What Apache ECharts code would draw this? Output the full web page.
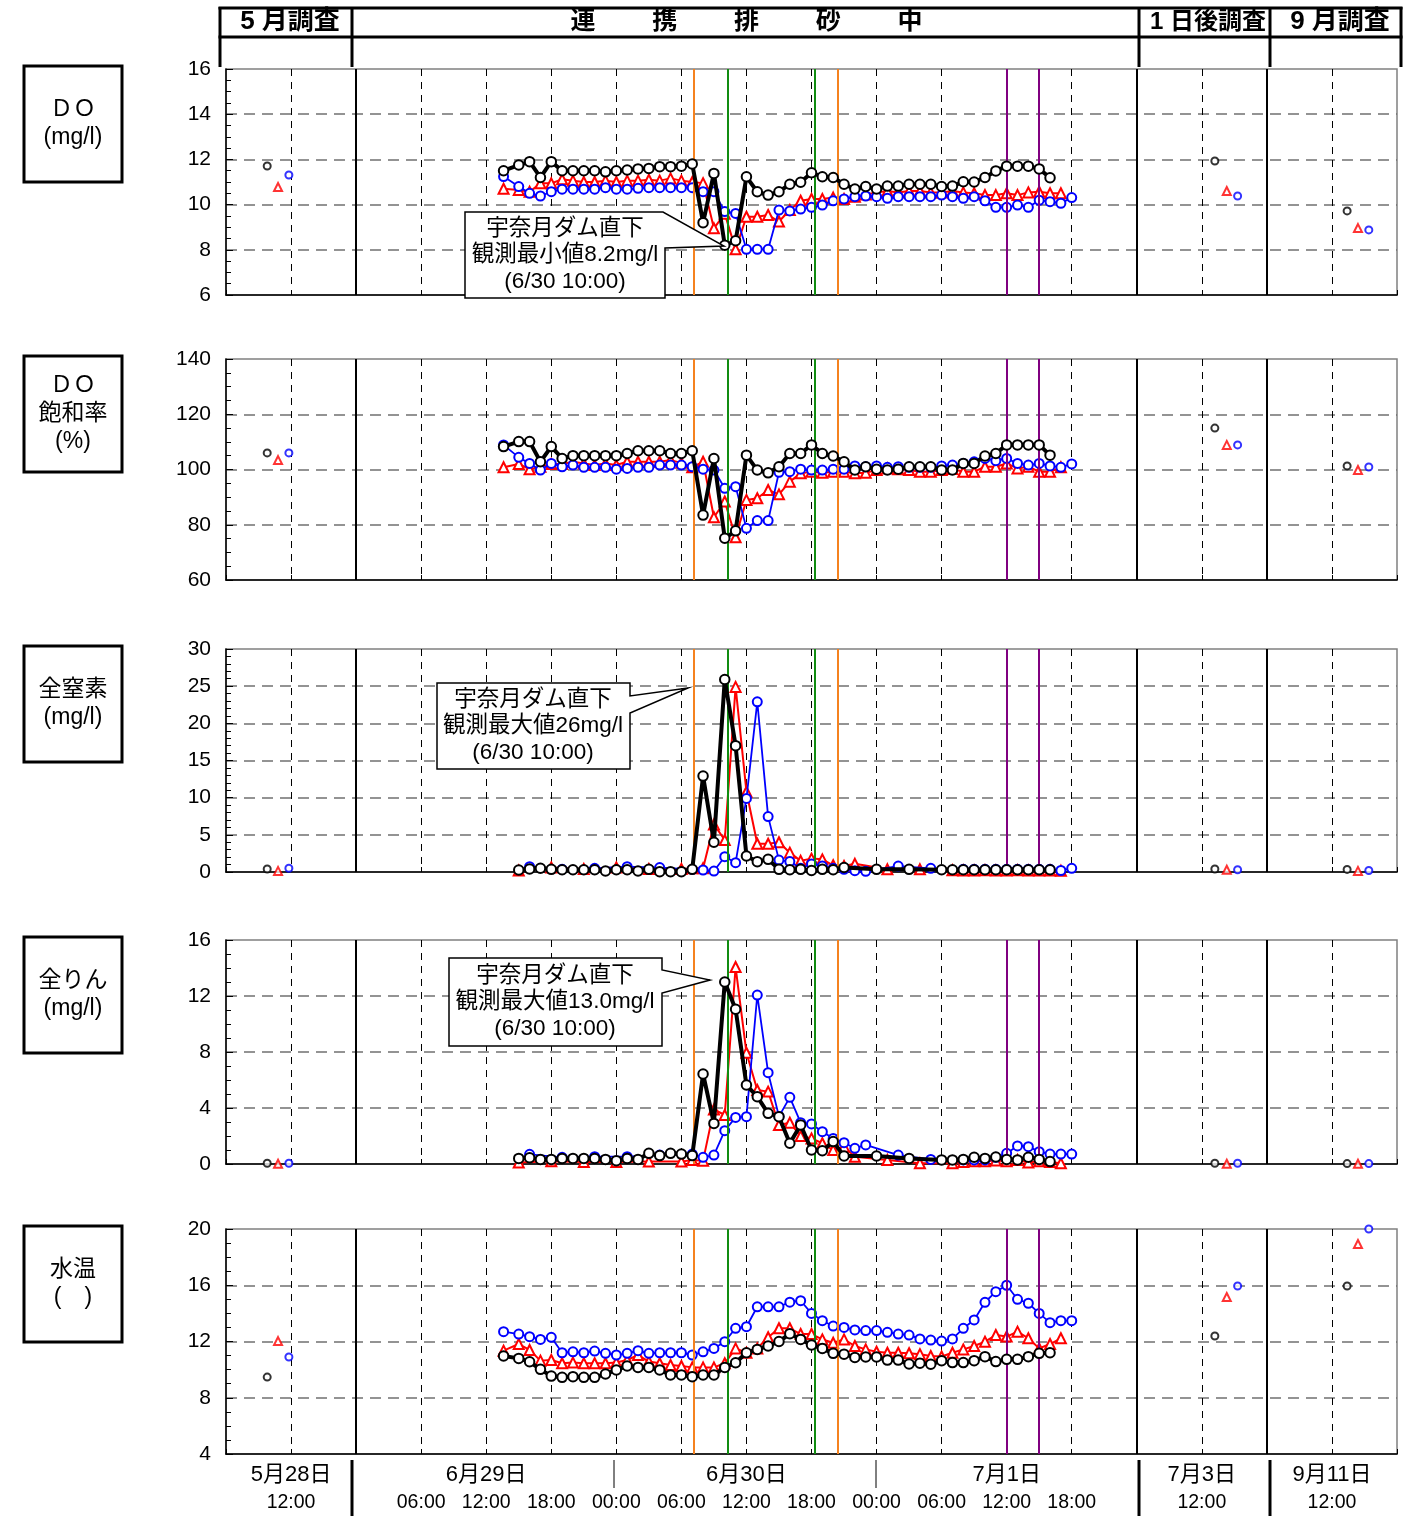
<!DOCTYPE html>
<html><head><meta charset="utf-8">
<script src="https://cdn.jsdelivr.net/npm/echarts@6/dist/echarts.min.js"></script>
<style>html,body{margin:0;padding:0;background:#fff}#c{width:1414px;height:1516px}</style>
</head><body><div id="c"></div><script>
// ---- time grid (hours from 6/29 00:00) ----
const HOURS = [13.6,
 15,16,17,
 18,19,20,21,22,23,
 24,25,26,27,28,29,
 30,31,32,33,34,35,
 36,37,38,39,40,41,
 42,43,44,45,46,47,
 48,49,50,51,52,53,
 54,55,56,57,58,59,
 60,61,62,63,64,65,
 66];

// ---- DO (mg/l) ----
const DO_BLACK = [11.5, 11.75,11.9,11.2, 11.9,11.5,11.5,11.5,11.5,11.45, 11.5,11.53,11.58,11.6,11.68,11.68, 11.7,11.8,9.2,11.38,8.2,8.4, 11.23,10.57,10.42,10.57,10.9,10.99, 11.41,11.23,11.2,10.9,10.69,10.8, 10.69,10.82,10.82,10.9,10.9,10.9, 10.8,10.82,11.01,11.0,11.2,11.49, 11.7,11.7,11.7,11.58,11.19,null, null];
const DO_RED = [10.7, 10.65,10.57,10.94, 10.94,11.12,11.06,11.0,11.0,11.06, 11.0,11.06,11.06,11.1,11.06,11.16, 11.06,11.0,10.95,8.95,9.6,8.02, 9.46,9.46,9.54,9.25,9.76,10.17, 10.25,10.25,10.31,10.25,10.35,10.45, 10.54,10.6,10.54,10.6,10.6,10.54, 10.54,10.6,10.54,10.5,10.42,10.42, 10.5,10.42,10.54,10.57,10.5,10.5, null];
const DO_BLUE = [11.24, 10.8,10.5,10.38, 10.57,10.68,10.68,10.68,10.68,10.75, 10.68,10.68,10.72,10.75,10.75,10.75, 10.75,10.75,10.57,10.57,9.69,9.61, 8.02,8.02,8.02,9.76,9.72,9.8, 9.88,9.98,10.17,10.25,10.35,10.38, 10.35,10.28,10.35,10.35,10.35,10.35, 10.42,10.35,10.28,10.35,10.17,9.88, 9.88,9.98,9.88,10.19,10.13,10.06, 10.31];

// ---- DO saturation (%) ----
const DOP_BLACK = [108.3, 110.1,110.1,102.8, 108.3,104.0,105.0,105.0,105.0,105.0, 105.0,105.8,106.8,106.8,106.8,105.8, 105.8,106.8,83.5,104.0,75.1,77.8, 105.2,99.8,98.8,101.0,105.8,105.8, 108.9,105.8,104.9,102.8,99.8,101.0, 100.1,99.8,100.1,101.0,101.0,101.0, 99.8,99.8,102.2,102.2,104.9,105.8, 108.9,108.9,108.9,108.9,105.2,null, null];
const DOP_RED = [100.8, 102.0,100.1,101.0, 102.0,102.0,102.8,102.2,101.6,102.2, 101.6,102.8,102.8,102.8,102.8,103.4, 102.4,100.8,102.8,82.7,88.4,75.5, 89.0,89.6,92.6,91.0,95.6,98.6, 99.2,98.8,99.2,99.2,98.6,98.8, 99.8,100.4,100.1,99.8,99.2,99.2, 99.8,100.2,99.2,99.2,101.0,101.0, 102.2,100.4,101.0,99.2,99.2,100.8, null];
const DOP_BLUE = [108.9, 104.4,102.2,99.8, 102.2,101.0,101.6,100.8,100.8,100.8, 100.1,100.4,100.8,100.8,101.6,101.6, 101.6,101.0,100.1,99.8,93.2,93.8, 78.7,81.5,81.5,99.0,99.2,100.1, 99.8,99.8,100.1,100.1,101.3,101.0, 101.3,100.8,101.0,100.8,100.8,100.8, 101.3,101.6,102.2,102.8,104.0,103.2, 104.0,102.2,101.6,102.2,101.3,100.8, 102.0];

// ---- Total nitrogen (mg/l) ----
const TN_BLACK = [null, 0.27,0.4,0.5, 0.36,0.3,0.3,0.3,0.3,0.13, 0.3,0.3,0.13,0.36,0.05,0.05, 0.05,0.36,12.9,4.0,25.9,17.0, 2.15,1.39,1.7,0.36,0.3,0.36, 0.2,0.36,0.3,0.6,null,null, 0.36,null,null,0.36,null,null, 0.3,0.3,0.3,0.3,0.3,0.3, 0.3,0.3,0.3,0.3,0.3,null, null];
const TN_RED = [null, 0.2,null,null, 0.6,null,null,0.4,null,null, 0.6,null,null,0.4,null,null, 0.4,0.5,0.5,6.4,4.3,24.9, 10.8,3.8,3.8,4.0,2.6,1.5, 1.8,1.7,0.9,0.8,1.1,null, null,0.36,null,null,0.36,null, null,0.25,0.2,0.2,0.25,0.2, 0.2,0.25,0.2,0.2,0.2,0.17, null];
const TN_BLUE = [null, null,0.72,null, null,0.36,null,null,0.5,null, null,0.72,null,null,0.6,null, null,0.36,0.27,0.13,2.06,1.26, 9.9,22.9,7.45,1.6,1.4,0.5, 1.08,0.8,0.5,0.36,0.18,0.1, null,null,0.8,null,null,0.5, null,null,0.36,0.36,0.36,0.36, 0.36,0.36,0.36,0.36,0.36,0.2, 0.5];

// ---- Total phosphorus (mg/l) ----
const TP_BLACK = [null, 0.4,0.45,0.33, 0.33,0.4,0.4,0.4,0.4,0.33, 0.24,0.4,0.33,0.76,0.6,0.76, 0.71,0.6,6.43,2.9,13.0,11.05, 5.64,4.81,3.62,3.38,1.48,2.79, 1.0,0.95,1.6,0.57,null,null, 0.57,null,null,0.4,null,null, 0.29,0.29,0.33,0.48,0.4,0.5, 0.33,0.29,0.48,0.33,0.17,null, null];
const TP_RED = [null, 0.1,null,null, 0.2,null,null,0.15,null,null, 0.15,null,null,0.17,null,null, 0.17,0.29,0.24,3.9,3.5,14.07, 7.95,5.29,5.17,2.79,2.95,2.0, 1.83,1.48,1.0,1.24,0.52,null, null,0.29,null,null,0.05,null, null,0.05,0.15,0.2,0.2,0.25, 0.2,0.29,0.1,0.2,0.15,0.05, null];
const TP_BLUE = [null, null,0.69,null, null,0.48,null,null,0.52,null, null,0.52,null,null,0.64,null, null,0.71,0.48,0.64,2.38,3.33, 3.38,12.07,6.52,3.4,4.76,2.95, 2.86,2.31,1.83,1.52,1.12,1.36, null,null,0.64,null,null,0.33, null,null,0.29,0.29,0.29,0.48, 0.76,1.29,1.24,0.88,0.71,0.71, 0.71];

// ---- Water temperature ----
const TEMP_BLACK = [10.97, 10.8,10.56,10.02, 9.54,9.45,9.5,9.45,9.45,9.69, 9.97,10.26,10.16,10.16,9.97,9.62, 9.62,9.5,9.62,9.62,10.16,10.49, 11.2,11.44,11.68,12.0,12.55,12.15, 11.75,11.51,11.16,11.1,10.87,10.9, 10.9,10.68,10.68,10.4,10.45,10.38, 10.64,10.5,10.5,10.64,10.92,10.57, 10.73,10.73,10.92,11.16,11.2,null, null];
const TEMP_RED = [11.35, 11.82,11.4,10.64, 10.68,10.45,10.5,10.45,10.45,10.45, 10.5,10.68,11.04,10.57,10.45,10.33, 10.26,10.16,10.16,10.16,10.45,11.51, 11.2,11.51,12.3,12.94,12.94,12.53, 12.53,12.15,11.91,12.15,11.68,11.44, 11.27,11.2,11.2,11.16,11.1,10.97, 10.93,11.2,11.44,11.68,11.99,12.46, 12.35,12.7,12.23,11.51,11.82,12.23, null];
const TEMP_BLUE = [12.7, 12.53,12.34,12.15, 12.3,11.2,11.27,11.2,11.32,11.16, 11.04,11.16,11.35,11.16,11.2,11.2, 11.2,11.04,11.27,11.51,11.99,12.94, 13.05,14.47,14.47,14.47,14.8,14.9, 14.0,13.48,13.1,13.0,12.82,12.78, 12.78,12.65,12.53,12.46,12.18,12.1, 12.03,12.18,12.94,13.53,14.79,15.54, 16.0,15.0,14.72,14.0,13.34,13.48, 13.48];

// ---- separate surveys: [black, red, blue] ----
const MAY_HOURS  = [-8.2, -7.2, -6.2];
const JUL3_HOURS = [79.2, 80.3, 81.3];
const SEP_HOURS  = [91.4, 92.4, 93.4];
const DO_MAY=[11.71,10.78,11.31],  DO_JUL3=[11.93,10.6,10.38],  DO_SEP=[9.72,8.96,8.88];
const DOP_MAY=[106.0,103.4,106.0], DOP_JUL3=[115.0,108.9,108.9], DOP_SEP=[101.3,99.8,100.9];
const TN_MAY=[0.4,0.15,0.5],       TN_JUL3=[0.4,0.3,0.3],       TN_SEP=[0.35,0.15,0.2];
const TP_MAY=[0.05,0.02,0.05],     TP_JUL3=[0.05,0.02,0.05],    TP_SEP=[0.03,0.02,0.03];
const TEMP_MAY=[9.47,12.03,10.9],  TEMP_JUL3=[12.39,15.16,15.95], TEMP_SEP=[15.95,18.93,20.0];

// ---- vertical markers ----
const SECTION_BOUNDS = [0, 72, 84];
const EVENT_HOURS  = [31.17, 34.3, 42.33, 44.4, 60.0, 63.0];
const EVENT_COLORS = ['#F5821F', '#118C11', '#118C11', '#F5821F', '#800080', '#800080'];

// ---- axis tick labels ----
const TICK_HOURS = [-6, 6, 12, 18, 24, 30, 36, 42, 48, 54, 60, 66, 78, 90];
const TICK_DATES = ['5月28日','','6月29日','','','','6月30日','','','','7月1日','','7月3日','9月11日'];
const TICK_TIMES = ['12:00','06:00','12:00','18:00','00:00','06:00','12:00','18:00','00:00','06:00','12:00','18:00','12:00','12:00'];

const PANEL_TITLES = ['ＤＯ\n(mg/l)', 'ＤＯ\n飽和率\n(%)', '全窒素\n(mg/l)', '全りん\n(mg/l)', '水温\n(　)'];

const FONT = "'Liberation Sans', Arial, 'Noto Sans CJK JP', sans-serif";
const PANELS = [
  {top:69,   height:226, min:6,  max:16,  interval:2,  minor:4, data:[DO_BLACK,DO_RED,DO_BLUE],       may:DO_MAY,  jul:DO_JUL3,  sep:DO_SEP},
  {top:359,  height:221, min:60, max:140, interval:20, minor:4, data:[DOP_BLACK,DOP_RED,DOP_BLUE],    may:DOP_MAY, jul:DOP_JUL3, sep:DOP_SEP},
  {top:649,  height:223, min:0,  max:30,  interval:5,  minor:5, data:[TN_BLACK,TN_RED,TN_BLUE],       may:TN_MAY,  jul:TN_JUL3,  sep:TN_SEP},
  {top:940,  height:224, min:0,  max:16,  interval:4,  minor:4, data:[TP_BLACK,TP_RED,TP_BLUE],       may:TP_MAY,  jul:TP_JUL3,  sep:TP_SEP},
  {top:1229, height:225, min:4,  max:20,  interval:4,  minor:4, data:[TEMP_BLACK,TEMP_RED,TEMP_BLUE], may:TEMP_MAY,jul:TEMP_JUL3,sep:TEMP_SEP}
];
const STYLES = [
  {color:'#000000', symbol:'emptyCircle',   size:9.5, lw:4,   bw:2.2, z:5},
  {color:'#FF0000', symbol:'emptyTriangle', size:10,  lw:2,   bw:1.8, z:3},
  {color:'#0000FF', symbol:'emptyCircle',   size:9,   lw:1.8, bw:1.8, z:4}
];

function pairs(hours, vals){
  const out = [];
  hours.forEach((h,i)=>{ if (vals[i] !== null && vals[i] !== undefined) out.push([h, vals[i]]); });
  return out;
}

const grids = [], xAxes = [], yAxes = [], series = [];
PANELS.forEach((p, pi) => {
  const last = pi === PANELS.length - 1;
  grids.push({left:226, right:17, top:p.top, height:p.height, show:true, borderColor:'#808080', borderWidth:1.5, backgroundColor:'transparent', containLabel:false, outerBoundsMode:'none'});
  xAxes.push({
    type:'value', gridIndex:pi, min:-12, max:96, interval:6,
    axisLine:{show:true, onZero:false, lineStyle:{color:'#000', width:1.5}},
    axisTick:{show:true, inside:true, length:5, lineStyle:{color:'#000', width:1}},
    splitLine:{show:true, showMinLine:false, showMaxLine:false, lineStyle:{color:'#000', width:1, type:[7,6]}},
    axisLabel: last ? {
      show:true, margin:7, interval:0, showMinLabel:true, showMaxLabel:true, hideOverlap:false,
      formatter:(v)=>{ const i = TICK_HOURS.indexOf(Math.round(v)); if (i < 0) return ''; return '{d|' + (TICK_DATES[i] || ' ') + '}\n{t|' + TICK_TIMES[i] + '}'; },
      rich:{ d:{fontSize:22, lineHeight:28, fontFamily:FONT, color:'#000'}, t:{fontSize:19.5, lineHeight:28, fontFamily:FONT, color:'#000'} }
    } : {show:false}
  });
  yAxes.push({
    type:'value', gridIndex:pi, min:p.min, max:p.max, interval:p.interval,
    axisLine:{show:true, onZero:false, lineStyle:{color:'#000', width:1.5}},
    axisTick:{show:true, inside:true, length:7, lineStyle:{color:'#000', width:1}},
    minorTick:{show:true, splitNumber:p.minor, length:5, lineStyle:{color:'#000', width:1}},
    splitLine:{show:true, showMinLine:false, showMaxLine:false, lineStyle:{color:'#707070', width:1.5, type:[11,7]}},
    axisLabel:{fontSize:21, fontFamily:FONT, color:'#000', margin:15, showMinLabel:true, showMaxLabel:true}
  });
  // vertical reference lines
  const ml = [];
  SECTION_BOUNDS.forEach(x => ml.push({xAxis:x, lineStyle:{color:'#000', width:2, type:'solid'}}));
  EVENT_HOURS.forEach((x,i) => ml.push({xAxis:x, lineStyle:{color:EVENT_COLORS[i], width:2, type:'solid'}}));
  series.push({type:'line', xAxisIndex:pi, yAxisIndex:pi, data:[], z:1, silent:true,
    markLine:{silent:true, symbol:['none','none'], label:{show:false}, animation:false, data:ml}});
  // order: red, blue, black
  [1,2,0].forEach(si => {
    const st = STYLES[si];
    series.push({
      type:'line', xAxisIndex:pi, yAxisIndex:pi, z:st.z, clip:false, animation:false,
      data:pairs(HOURS, p.data[si]), connectNulls:true,
      symbol:st.symbol, symbolSize:st.size, showSymbol:true, showAllSymbol:true,
      lineStyle:{color:st.color, width:st.lw},
      itemStyle:{color:st.color, borderColor:st.color, borderWidth:st.bw},
      emphasis:{disabled:true}
    });
    series.push({
      type:'scatter', xAxisIndex:pi, yAxisIndex:pi, z:st.z, clip:false, animation:false,
      data:[[MAY_HOURS[si], p.may[si]], [JUL3_HOURS[si], p.jul[si]], [SEP_HOURS[si], p.sep[si]]],
      symbol:st.symbol, symbolSize: si===1 ? 8 : 7,
      itemStyle:{color:st.color, borderColor:st.color, borderWidth:1.6},
      emphasis:{disabled:true}
    });
  });
});

// ---- graphic: header, labels, callouts ----
const G = [];
function line(x1,y1,x2,y2,w){ G.push({type:'line', shape:{x1,y1,x2,y2}, style:{stroke:'#000', lineWidth:w}, z:100, silent:true}); }
function text(x,y,t,size,weight,lh){ G.push({type:'text', x, y, z:102, silent:true, style:{text:t, fontSize:size, fontWeight:weight||'normal', fontFamily:FONT, fill:'#000', align:'center', verticalAlign:'middle', lineHeight:lh||size+4}}); }

// header
line(218.5,8,1402.5,8,3); line(218.5,37,1402.5,37,3);
[220,352,1139,1270,1401].forEach(x => line(x,7,x,67,3));
text(290,22,'5 月調査',26,'bold');
['連','携','排','砂','中'].forEach((c,i)=> text(583+i*81.75,22,c,25,'bold'));
text(1208,22,'1 日後調査',24,'bold');
text(1340,22,'9 月調査',26,'bold');

// left label boxes
PANELS.forEach((p,pi)=>{
  G.push({type:'rect', shape:{x:24,y:p.top-3,width:98,height:116}, style:{fill:'#fff', stroke:'#000', lineWidth:3}, z:100, silent:true});
  text(73, p.top-3+58, PANEL_TITLES[pi], 23, 'normal', 28);
});

// bottom separators
[[352,3,1516],[614,1,1488],[876,1,1488],[1139,3,1516],[1270,3,1516]].forEach(a => line(a[0],1460,a[0],a[2],a[1]));

// callouts
function callout(pts, cx, cy, lines){
  G.push({type:'polygon', shape:{points:pts}, style:{fill:'#fff', stroke:'#000', lineWidth:1.5}, z:101, silent:true});
  text(cx, cy, lines, 22.5, 'normal', 26.5);
}
callout([[465,212],[663,212],[724,246],[665,248],[665,298],[465,298]], 565, 255, '宇奈月ダム直下\n観測最小値8.2mg/l\n(6/30 10:00)');
callout([[437,683],[630,683],[630,696],[688,688],[630,713],[630,769],[437,769]], 533, 726, '宇奈月ダム直下\n観測最大値26mg/l\n(6/30 10:00)');
callout([[449,958],[662,958],[662,970],[710,980],[662,993],[662,1046],[449,1046]], 555, 1002, '宇奈月ダム直下\n観測最大値13.0mg/l\n(6/30 10:00)');

const chart = echarts.init(document.getElementById('c'), null, {renderer:'canvas'});
chart.setOption({
  animation:false,
  backgroundColor:'#fff',
  grid:grids, xAxis:xAxes, yAxis:yAxes, series:series,
  graphic:{elements:G}
});
</script></body></html>
